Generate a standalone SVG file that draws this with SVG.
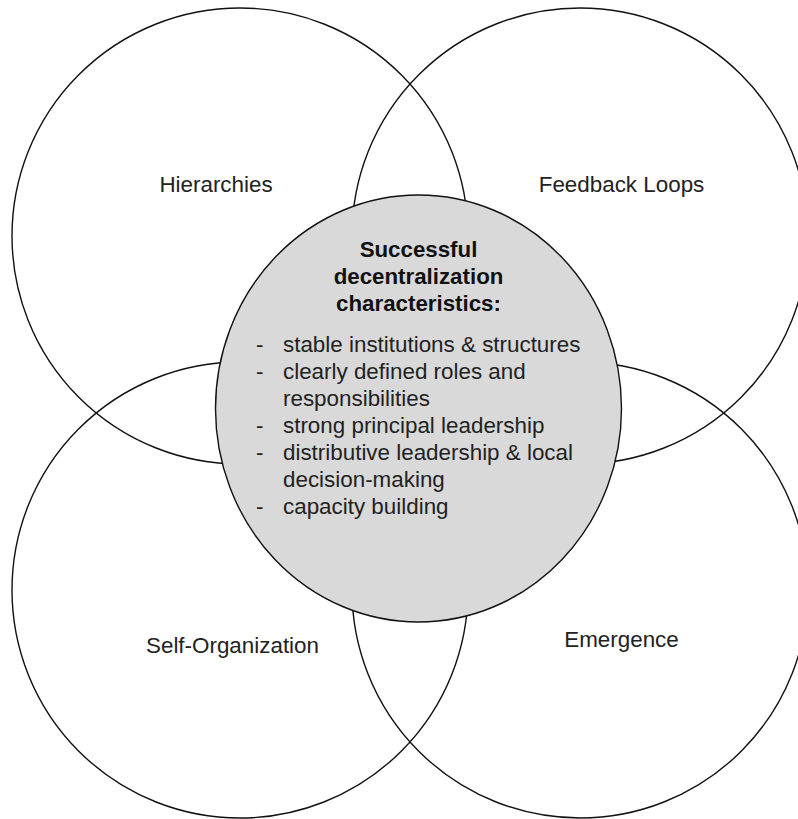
<svg xmlns="http://www.w3.org/2000/svg" width="798" height="819" viewBox="0 0 798 819">
  <style>
    .ring { fill: none; stroke: #111; stroke-width: 1.4; }
    .core { fill: #d9d9d9; stroke: #111; stroke-width: 1.4; }
    .label { font-family: "Liberation Sans", Arial, sans-serif; font-size: 22.4px; fill: #222; }
    .title { font-family: "Liberation Sans", Arial, sans-serif; font-size: 22.3px; font-weight: bold; fill: #111; text-anchor: middle; }
    .mid { text-anchor: middle; }
  </style>
  <rect width="798" height="819" fill="#ffffff"/>

  <g id="hierarchies">
    <circle class="ring" cx="240" cy="236" r="228"/>
    <text class="label mid" x="216" y="192">Hierarchies</text>
  </g>
  <g id="feedback-loops">
    <circle class="ring" cx="580" cy="236" r="228"/>
    <text class="label mid" x="621.5" y="192">Feedback Loops</text>
  </g>
  <g id="self-organization">
    <circle class="ring" cx="240" cy="590" r="228"/>
    <text class="label mid" x="232.5" y="653">Self-Organization</text>
  </g>
  <g id="emergence">
    <circle class="ring" cx="580" cy="590" r="228"/>
    <text class="label mid" x="621.5" y="647">Emergence</text>
  </g>

  <g id="characteristics">
    <ellipse class="core" cx="418.5" cy="408.5" rx="203" ry="213.5"/>
    <text class="title" x="418.5" y="257">Successful</text>
    <text class="title" x="418.5" y="284">decentralization</text>
    <text class="title" x="418.5" y="311">characteristics:</text>
    <g class="label">
      <text x="256" y="352">-</text>
      <text x="283" y="352">stable institutions &amp; structures</text>
      <text x="256" y="379">-</text>
      <text x="283" y="379">clearly defined roles and</text>
      <text x="283" y="405.5">responsibilities</text>
      <text x="256" y="433">-</text>
      <text x="283" y="433">strong principal leadership</text>
      <text x="256" y="460">-</text>
      <text x="283" y="460">distributive leadership &amp; local</text>
      <text x="283" y="487">decision-making</text>
      <text x="256" y="514">-</text>
      <text x="283" y="514">capacity building</text>
    </g>
  </g>

  <g id="connectors"/>
</svg>
